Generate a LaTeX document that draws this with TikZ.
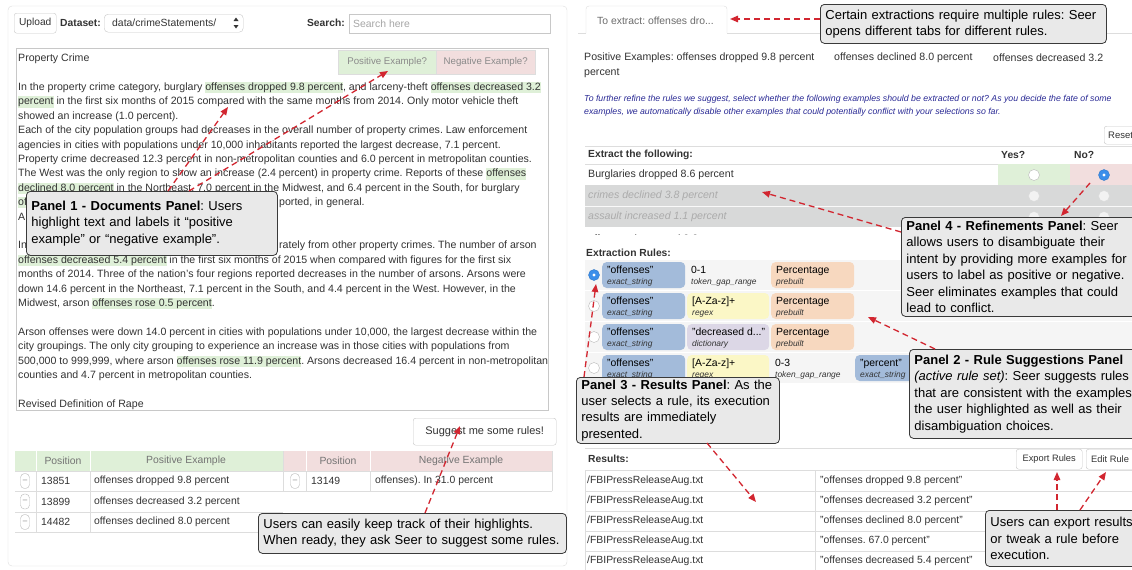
\documentclass[tikz,border=0pt]{standalone}
\usepackage{fontspec}
\setmainfont{Liberation Sans}
\usetikzlibrary{arrows.meta}
\frenchspacing
\definecolor{hlg}{HTML}{DFF0D8}
\definecolor{hlr}{HTML}{F2DEDE}
\definecolor{bord}{HTML}{C8C8C8}
\definecolor{lbord}{HTML}{DDDDDD}
\definecolor{callfill}{HTML}{E9E9E9}
\definecolor{callbord}{HTML}{3A3A3A}
\definecolor{arrred}{HTML}{D22630}
\definecolor{pillblue}{HTML}{A3BBDA}
\definecolor{pillyel}{HTML}{FBF7C6}
\definecolor{pilllav}{HTML}{DCD7E6}
\definecolor{pillpea}{HTML}{F7D8BF}
\definecolor{disgray}{HTML}{D8D9D9}
\definecolor{distext}{HTML}{ABABAB}
\definecolor{infoblue}{HTML}{2A2A95}
\definecolor{radioblue}{HTML}{3B8EEA}
\definecolor{txt}{HTML}{333333}
\definecolor{rowbg}{HTML}{F5F5F5}
\definecolor{tabtxt}{HTML}{8A8A8A}
\newcommand{\hlt}[1]{{\setlength{\fboxsep}{0pt}\colorbox{hlg}{\rule[-2.8pt]{0pt}{11.2pt}#1}}}
\newcommand{\pill}[7]{%
  \node[pillbox, fill=#5, minimum width=#4pt, anchor=west] (#1) at (#2,#3) {};
  \node[pilltop] (#1a) at (#2+5,#3-2) {#6};
  \node[pillbot] (#1b) at (#2+5,#3+9) {#7};}
\newcommand{\pilltxt}[5]{%
  \node[pilltop] (#1a) at (#2+5,#3-2) {#4};
  \node[pillbot] (#1b) at (#2+5,#3+9) {#5};}
\tikzset{
  doc/.style={anchor=base west, inner sep=0pt, font=\fontsize{10.6}{12}\selectfont, text=txt},
  lbl/.style={anchor=west, inner sep=0pt, font=\fontsize{10.4}{12}\selectfont, text=txt},
  blbl/.style={anchor=west, inner sep=0pt, font=\fontsize{10.3}{12}\selectfont\bfseries, text=txt},
  ctr/.style={inner sep=0pt, font=\fontsize{10.4}{12}\selectfont, text=txt},
  btn/.style={draw=bord, rounded corners=2.5pt, fill=white, inner sep=0pt, anchor=north west, font=\fontsize{10.2}{12}\selectfont, text=txt},
  tabbox/.style={draw=lbord, inner sep=0pt, anchor=north west, font=\fontsize{9.7}{11}\selectfont, text=tabtxt, minimum height=24pt},
  callout/.style={draw=callbord, fill=callfill, rounded corners=4pt, line width=0.8pt, align=left, inner xsep=5pt, inner ysep=2pt, font=\fontsize{13}{16.4}\selectfont, anchor=north west, text=black},
  redarr/.style={draw=arrred, line width=1.3pt, dash pattern=on 6pt off 4pt, -{Triangle[length=8pt,width=6.5pt]}},
  radio/.style={circle, draw=gray!55, fill=white, minimum size=11pt, inner sep=0pt},
  radiosel/.style={circle, draw=radioblue!85!black, fill=radioblue, minimum size=11pt, inner sep=0pt, path picture={\fill[white] (path picture bounding box.center) circle (1.6pt);}},
  radiodis/.style={circle, draw=gray!30, fill=gray!10, minimum size=11pt, inner sep=0pt},
  minusbox/.style={draw=gray!55, rounded corners=4pt, minimum width=9pt, minimum height=15pt, inner sep=0pt, font=\fontsize{8}{8}\selectfont, text=gray},
  pillbox/.style={rounded corners=4.5pt, minimum height=26pt, inner sep=0pt},
  pilltop/.style={anchor=base west, inner sep=0pt, font=\fontsize{10.4}{11}\selectfont, text=black},
  pillbot/.style={anchor=base west, inner sep=0pt, font=\fontsize{8.4}{9}\selectfont\itshape, text=txt},
}
\begin{document}
\begin{tikzpicture}[x=1pt,y=-1pt]
\useasboundingbox (0,0) rectangle (1132,570);
\fill[white] (0,0) rectangle (1132,570);

% ================= LEFT PANEL =================
\draw[lbord, rounded corners=4pt] (8,6) rectangle (567,566);
\node[btn, minimum width=42pt, minimum height=20pt] (upload) at (14,13) {Upload};
\node[blbl] (dslabel) at (60,23) {Dataset:};
\node[btn, rounded corners=4pt, minimum width=139pt, minimum height=18pt] (dd) at (104,14) {};
\node[lbl] (ddtxt) at (112,23) {data/crimeStatements/};
\fill[txt] (233.5,21) -- (238.5,21) -- (236,17.5) -- cycle;
\fill[txt] (233.5,25) -- (238.5,25) -- (236,28.5) -- cycle;
\node[blbl, anchor=east] (srlabel) at (345,23) {Search:};
\node[draw=bord, minimum width=201pt, minimum height=19pt, inner sep=0pt, anchor=north west] (sbox) at (349,14) {};
\node[lbl, text=gray!70] (sph) at (353,23.5) {Search here};

\node[draw=bord, minimum width=532pt, minimum height=362pt, inner sep=0pt, anchor=north west] (docbox) at (16,48) {};

\node[doc] (d0) at (18,61.6) {Property Crime};
\node[doc] (d2) at (18,90.4) {In the property crime category, burglary \hlt{offenses dropped 9.8 percent}, and larceny-theft \hlt{offenses decreased 3.2}};
\node[doc] (d3) at (18,104.8) {\hlt{percent} in the first six months of 2015 compared with the same months from 2014. Only motor vehicle theft};
\node[doc] (d4) at (18,119.2) {showed an increase (1.0 percent).};
\node[doc] (d5) at (18,133.6) {Each of the city population groups had decreases in the overall number of property crimes. Law enforcement};
\node[doc] (d6) at (18,148) {agencies in cities with populations under 10,000 inhabitants reported the largest decrease, 7.1 percent.};
\node[doc] (d7) at (18,162.4) {Property crime decreased 12.3 percent in non-metropolitan counties and 6.0 percent in metropolitan counties.};
\node[doc] (d8) at (18,176.8) {The West was the only region to show an increase (2.4 percent) in property crime. Reports of these \hlt{offenses}};
\node[doc] (d9) at (18,191.2) {\hlt{declined 8.0 percent} in the Northeast, 7.0 percent in the Midwest, and 6.4 percent in the South, for burglary};
\node[doc] (d10a) at (18,205.6) {\hlt{of}};
\node[doc] (d10b) at (279,205.6) {ported, in general.};
\node[doc] (d11) at (18,220) {A};
\node[doc] (d13a) at (18,248.8) {In};
\node[doc] (d13b) at (279,248.8) {rately from other property crimes. The number of arson};
\node[doc] (d14) at (18,263.2) {\hlt{offenses decreased 5.4 percent} in the first six months of 2015 when compared with figures for the first six};
\node[doc] (d15) at (18,277.6) {months of 2014. Three of the nation's four regions reported decreases in the number of arsons. Arsons were};
\node[doc] (d16) at (18,292) {down 14.6 percent in the Northeast, 7.1 percent in the South, and 4.4 percent in the West. However, in the};
\node[doc] (d17) at (18,306.4) {Midwest, arson \hlt{offenses rose 0.5 percent}.};
\node[doc] (d19) at (18,335.2) {Arson offenses were down 14.0 percent in cities with populations under 10,000, the largest decrease within the};
\node[doc] (d20) at (18,349.6) {city groupings. The only city grouping to experience an increase was in those cities with populations from};
\node[doc] (d21) at (18,364) {500,000 to 999,999, where arson \hlt{offenses rose 11.9 percent}. Arsons decreased 16.4 percent in non-metropolitan};
\node[doc] (d22) at (18,378.4) {counties and 4.7 percent in metropolitan counties.};
\node[doc] (d24) at (18,407.2) {Revised Definition of Rape};

\node[tabbox, fill=hlg, minimum width=98pt] (postab) at (338,50) {Positive Example?};
\node[tabbox, fill=hlr, minimum width=99pt] (negtab) at (436,50) {Negative Example?};

\node[btn, minimum width=143pt, minimum height=27pt, font=\fontsize{11}{13}\selectfont] (suggest) at (413,418) {Suggest me some rules!};

% examples table
\fill[hlg] (15,451) rectangle (283,471);
\fill[hlr] (283,451) rectangle (552,471);
\draw[white, line width=1pt] (36,451) -- (36,471) (90,451) -- (90,471) (306,451) -- (306,471) (370,451) -- (370,471);
\node[ctr, text=gray!90!black] (h1) at (63,461) {Position};
\node[ctr, text=gray!90!black] (h2) at (186,461) {Positive Example};
\node[ctr, text=gray!90!black] (h3) at (338,461) {Position};
\node[ctr, text=gray!90!black] (h4) at (461,461) {Negative Example};
\draw[lbord] (15,471) -- (552,471) (15,491) -- (552,491) (15,512) -- (283,512) (15,532) -- (283,532);
\draw[lbord] (36,471) -- (36,532) (90,471) -- (90,532) (283,451) -- (283,491) (306,471) -- (306,491) (370,471) -- (370,491) (552,451) -- (552,491);
\node[minusbox] (m1) at (25,481) {--};
\node[minusbox] (m2) at (25,501.5) {--};
\node[minusbox] (m3) at (25,522) {--};
\node[minusbox] (m4) at (295,481) {--};
\node[lbl] (e1p) at (41,481) {13851};
\node[lbl] (e1t) at (94,481) {offenses dropped 9.8 percent};
\node[lbl] (e2p) at (41,501.5) {13899};
\node[lbl] (e2t) at (94,501.5) {offenses decreased 3.2 percent};
\node[lbl] (e3p) at (41,522) {14482};
\node[lbl] (e3t) at (94,522) {offenses declined 8.0 percent};
\node[lbl] (n1p) at (311,481) {13149};
\node[lbl] (n1t) at (375,481) {offenses). In 31.0 percent};

% ================= RIGHT PANEL =================
\draw[lbord, rounded corners=3pt] (586,33) -- (586,6) -- (727,6) -- (727,33);
\draw[lbord] (578,33) -- (586,33) (727,33) -- (1132,33);
\node[lbl, text=gray!85!black] (tabtxt) at (597,21) {To extract: offenses dro...};

\node[lbl, font=\fontsize{10.6}{12}\selectfont] (pe1) at (584,58) {Positive Examples: offenses dropped 9.8 percent};
\node[lbl, font=\fontsize{10.6}{12}\selectfont] (pe2) at (834,58) {offenses declined 8.0 percent};
\node[lbl, font=\fontsize{10.6}{12}\selectfont] (pe3) at (993,58) {offenses decreased 3.2};
\node[lbl, font=\fontsize{10.6}{12}\selectfont] (pe4) at (584,73) {percent};

\node[lbl, text=infoblue, font=\fontsize{8.75}{10}\selectfont\itshape] (info1) at (584,99) {To further refine the rules we suggest, select whether the following examples should be extracted or not? As you decide the fate of some};
\node[lbl, text=infoblue, font=\fontsize{8.75}{10}\selectfont\itshape] (info2) at (584,112) {examples, we automatically disable other examples that could potentially conflict with your selections so far.};

\node[btn, minimum width=42pt, minimum height=18pt] (reset) at (1104,126) {};
\node[lbl, font=\fontsize{9.5}{11}\selectfont] (resettxt) at (1108,135) {Reset};

\draw[lbord] (585,146) -- (1132,146);
\node[blbl] (exh) at (588,155) {Extract the following:};
\node[blbl] (yesh) at (1001,155) {Yes?};
\node[blbl] (noh) at (1074,155) {No?};
\draw[lbord] (585,164) -- (1132,164);
\begin{scope}
\clip (585,164) rectangle (1132,234.5);
\fill[hlg] (998,164) rectangle (1070,185);
\fill[hlr] (1070,164) rectangle (1132,185);
\node[lbl, font=\fontsize{10.6}{12}\selectfont] (r1t) at (588,174.5) {Burglaries dropped 8.6 percent};
\node[radio] (r1y) at (1034,175) {};
\node[radiosel] (r1n) at (1104,175) {};
\draw[lbord] (585,185) -- (1132,185);
\fill[disgray] (585,185) rectangle (1132,227);
\draw[gray!5] (585,206) -- (1132,206);
\node[lbl, text=distext, font=\fontsize{10.6}{12}\selectfont\itshape] (r2t) at (588,196) {crimes declined 3.8 percent};
\node[lbl, text=distext, font=\fontsize{10.6}{12}\selectfont\itshape] (r3t) at (588,217) {assault increased 1.1 percent};
\node[radiodis] (r2y) at (1034,196) {};
\node[radiodis] (r2n) at (1104,196) {};
\node[radiodis] (r3y) at (1034,217) {};
\node[radiodis] (r3n) at (1104,217) {};
\node[lbl, font=\fontsize{10.6}{12}\selectfont] (r4t) at (588,239.5) {offenses decreased 8.8 percent};
\end{scope}

\node[blbl] (exrules) at (586,253) {Extraction Rules:};

% rule rows
\fill[rowbg] (585,260) rectangle (1132,290);
\fill[rowbg] (585,291) rectangle (1132,321);
\fill[rowbg] (585,322) rectangle (1132,352);
\fill[rowbg] (585,353) rectangle (1132,383);
\node[radiosel] (rr1) at (594,275) {};
\node[radio] (rr2) at (594,306) {};
\node[radio] (rr3) at (594,337) {};
\node[radio] (rr4) at (594,368) {};
\pill{p11}{602}{275}{83}{pillblue}{"offenses"}{exact\_string}
\pilltxt{p12}{686}{275}{0-1}{token\_gap\_range}
\pill{p13}{771}{275}{83}{pillpea}{Percentage}{prebuilt}
\pill{p21}{602}{306}{83}{pillblue}{"offenses"}{exact\_string}
\pill{p22}{687}{306}{82}{pillyel}{[A-Za-z]+}{regex}
\pill{p23}{771}{306}{83}{pillpea}{Percentage}{prebuilt}
\pill{p31}{602}{337}{83}{pillblue}{"offenses"}{exact\_string}
\pill{p32}{687}{337}{82}{pilllav}{"decreased d..."}{dictionary}
\pill{p33}{771}{337}{83}{pillpea}{Percentage}{prebuilt}
\pill{p41}{602}{368}{83}{pillblue}{"offenses"}{exact\_string}
\pill{p42}{687}{368}{82}{pillyel}{[A-Za-z]+}{regex}
\pilltxt{p43}{770}{368}{0-3}{token\_gap\_range}
\pill{p44}{855}{368}{80}{pillblue}{"percent"}{exact\_string}

% results
\draw[lbord] (585,448) -- (1132,448);
\node[blbl] (resh) at (588,459) {Results:};
\node[btn, minimum width=66pt, minimum height=20pt, font=\fontsize{9.3}{11}\selectfont] (export) at (1016,449) {Export Rules};
\node[btn, minimum width=56pt, minimum height=20pt] (edit) at (1086,449) {};
\node[lbl, font=\fontsize{9.3}{11}\selectfont] (edittxt) at (1091,459) {Edit Rule};
\draw[lbord] (585,470) -- (1132,470) (585,491) -- (1132,491) (585,511) -- (1132,511) (585,531) -- (1132,531) (585,551) -- (1132,551);
\draw[lbord] (585,470) -- (585,570) (815,470) -- (815,570);
\foreach \i/\yy/\res in {1/481/"offenses dropped 9.8 percent", 2/501/"offenses decreased 3.2 percent", 3/521/"offenses declined 8.0 percent", 4/541/"offenses. 67.0 percent", 5/561/"offenses decreased 5.4 percent"}{
  \node[lbl] (rf\i) at (587,\yy) {/FBIPressReleaseAug.txt};
  \node[lbl] (rv\i) at (820,\yy) {\res};
}

% ================= CALLOUTS =================
\node[callout, text width=241pt, minimum height=64pt] (c1) at (26,191) {\mbox{\textbf{Panel 1 - Documents Panel}: Users}\\\mbox{highlight text and labels it “positive}\\\mbox{example” or “negative example”.}};
\node[callout, text width=298pt, minimum height=40pt] (cu) at (258,513) {\mbox{Users can easily keep track of their highlights.}\\\mbox{When ready, they ask Seer to suggest some rules.}};
\node[callout, text width=276pt, minimum height=39pt] (ct) at (820,4) {\mbox{Certain extractions require multiple rules: Seer}\\\mbox{opens different tabs for different rules.}};
\node[callout, text width=260pt, minimum height=99pt] (c4) at (901,217) {\mbox{\textbf{Panel 4 - Refinements Panel}: Seer}\\\mbox{allows users to disambiguate their}\\\mbox{intent by providing more examples for}\\\mbox{users to label as positive or negative.}\\\mbox{Seer eliminates examples that could}\\\mbox{lead to conflict.}};
\node[callout, text width=193pt, minimum height=66pt] (c3) at (576,377) {\mbox{\textbf{Panel 3 - Results Panel}: As the}\\\mbox{user selects a rule, its execution}\\\mbox{results are immediately}\\\mbox{presented.}};
\node[callout, text width=260pt, minimum height=89pt] (c2) at (909,349) {\mbox{\textbf{Panel 2 - Rule Suggestions Panel}}\\\mbox{\textit{(active rule set)}: Seer suggests rules}\\\mbox{that are consistent with the examples}\\\mbox{the user highlighted as well as their}\\\mbox{disambiguation choices.}};
\node[callout, text width=160pt, minimum height=56pt] (c5) at (985,510) {\mbox{Users can export results}\\\mbox{or tweak a rule before}\\\mbox{execution.}};

% ================= ARROWS =================
\coordinate (a1s) at (168,191);  \coordinate (a1e) at (228,107);
\coordinate (a2s) at (189,191);  \coordinate (a2e) at (388,71);
\coordinate (a3s) at (425,513);  \coordinate (a3e) at (460,426);
\coordinate (a4s) at (820,19);   \coordinate (a4e) at (730,19);
\coordinate (a5s) at (901,232);  \coordinate (a5e) at (762,192);
\coordinate (a6s) at (1090,183); \coordinate (a6e) at (1061,216);
\coordinate (a7s) at (935,349);  \coordinate (a7e) at (868,317);
\coordinate (a8s) at (584,377);  \coordinate (a8e) at (596,284);
\coordinate (a9s) at (707,443);  \coordinate (a9e) at (756,502);
\coordinate (a10s) at (1057,510); \coordinate (a10e) at (1057,472);
\coordinate (a11s) at (1080,510); \coordinate (a11e) at (1106,472);
\foreach \k in {1,...,11}{\draw[redarr] (a\k s) -- (a\k e);}
\end{tikzpicture}
\end{document}
